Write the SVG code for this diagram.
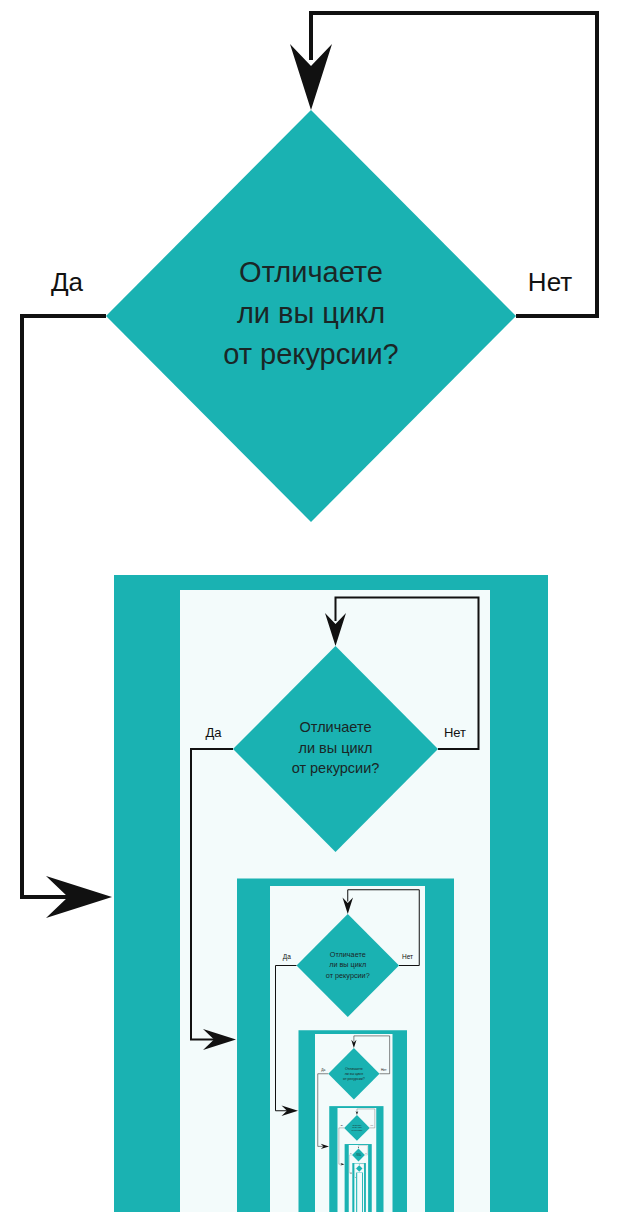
<svg xmlns="http://www.w3.org/2000/svg" xmlns:xlink="http://www.w3.org/1999/xlink" width="620" height="1212" viewBox="0 0 620 1212">
<style>
.line{fill:none;stroke:#111;stroke-width:4}
.head{fill:#111}
.t{font-family:"Liberation Sans",Arial,sans-serif;font-size:29px;fill:#1a2626;text-anchor:middle}
.lbl{font-family:"Liberation Sans",Arial,sans-serif;font-size:26px;fill:#111;text-anchor:middle}
</style>
<defs>
<g id="base">
<g id="frame">
<rect x="114" y="575" width="434" height="3000" fill="#1ab2b2"/>
<rect x="180" y="590" width="310" height="3000" fill="#f3fbfb"/>
</g>
<g id="connectors">
<path class="line" d="M516 316 H597 V13 H311 V60"/>
<path class="head" d="M311 110 L290 44 L311 66 L332 44 Z"/>
<path class="line" d="M106 316 H22 V897 H70"/>
<path class="head" d="M112 897 L46 876 L68 897 L46 918 Z"/>
</g>
<g id="decision">
<path d="M311 110 L516 316 L311 522 L106 316 Z" fill="#1ab2b2"/>
<text class="t" x="311" y="282">Отличаете</text>
<text class="t" x="311" y="323">ли вы цикл</text>
<text class="t" x="311" y="364">от рекурсии?</text>
</g>
<text class="lbl" x="67" y="291">Да</text>
<text class="lbl" x="550" y="291">Нет</text>
</g>
</defs>
<rect width="620" height="1212" fill="#fff"/>
<use xlink:href="#base"/>
<g transform="translate(180,591) scale(0.5)"><use xlink:href="#base"/>
<g transform="translate(180,591) scale(0.5)"><use xlink:href="#base"/>
<g transform="translate(180,591) scale(0.5)"><use xlink:href="#base"/>
<g transform="translate(180,591) scale(0.5)"><use xlink:href="#base"/>
<g transform="translate(180,591) scale(0.5)"><use xlink:href="#base"/>
<g transform="translate(180,591) scale(0.5)"><use xlink:href="#base"/>
</g></g></g></g></g></g>
</svg>
